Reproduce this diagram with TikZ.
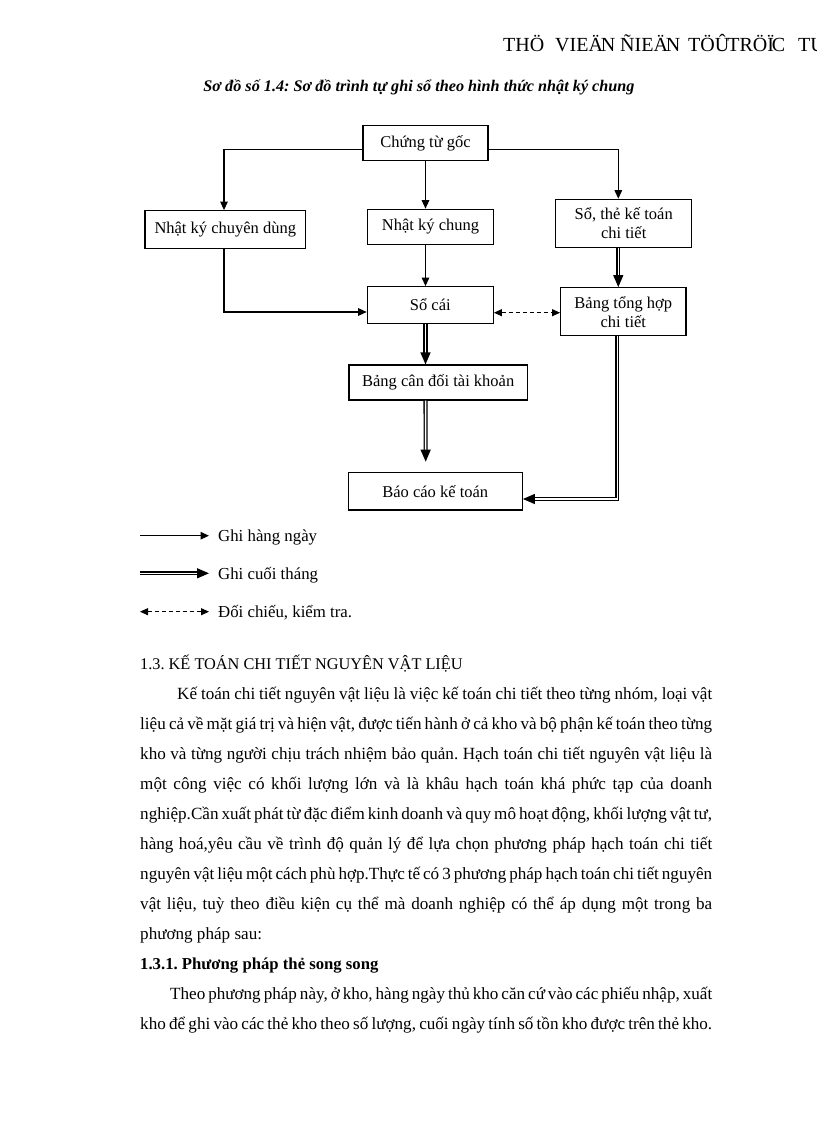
\documentclass[tikz,border=0pt]{standalone}
\usepackage{fontspec}
\setmainfont{Liberation Serif}
\usetikzlibrary{arrows.meta}
\frenchspacing
\newcommand\jline[1]{\hbox to 572pt{#1}}
\newcommand\ovl[1]{#1\kern-0.1em}
\begin{document}
\begin{tikzpicture}[x=1pt,y=-1pt,
  box/.style={draw, line width=1.2pt, inner sep=0pt, font=\fontsize{16.5}{19}\selectfont, align=center},
  daily/.style={line width=1.2pt, -{Triangle[length=8.5pt,width=7.5pt]}},
  monthly/.style={line width=1.3pt, double, double distance=1.5pt, -{Triangle[length=12pt,width=10pt]}},
  check/.style={line width=1pt, dash pattern=on 4pt off 3pt, {Triangle[length=8pt,width=7pt]}-{Triangle[length=8pt,width=7pt]}},
  body/.style={font=\fontsize{17.1}{21}\selectfont, anchor=base west, inner sep=0pt},
  legtext/.style={font=\fontsize{16.8}{21}\selectfont, anchor=base west, inner sep=0pt},
]
\fill[white] (0,0) rectangle (816,1123);
\useasboundingbox (0,0) rectangle (816,1123);

% header
\node[anchor=base west, inner sep=0pt, font=\fontsize{20}{24}\selectfont] (hdr) at (503,51.5)
  {\makebox[52pt][l]{THÖ}\makebox[65pt][l]{VIE\ovl{Ä}N}\makebox[68pt][l]{ÑIE\ovl{Ä}N}\makebox[110pt][l]{TÖ\ovl{Û}TRÖ\ovl{Ï}C}TUYE\ovl{Á}N};

% title
\node[anchor=base, inner sep=0pt, font=\bfseries\itshape\fontsize{16.2}{19}\selectfont] (title) at (419,92)
  {Sơ đồ số 1.4: Sơ đồ trình tự ghi sổ theo hình thức nhật ký chung};

% boxes
\node[box, minimum width=125pt, minimum height=35pt] (ctg) at (425.5,143.2) {Chứng từ gốc};
\node[box, minimum width=160.7pt, minimum height=37.6pt] (nkcd) at (225.3,229.5) {Nhật ký chuyên dùng};
\node[box, minimum width=125.6pt, minimum height=35pt] (nkc) at (430.5,226.8) {Nhật ký chung};
\node[box, minimum width=136pt, minimum height=48pt] (sct) at (623.7,223.3) {Sổ, thẻ kế toán\\chi tiết};
\node[box, minimum width=126pt, minimum height=36.6pt] (sc) at (430.3,305) {Sổ cái};
\node[box, minimum width=125.3pt, minimum height=48pt] (bth) at (623.3,311.7) {Bảng tổng hợp\\chi tiết};
\node[box, minimum width=178.3pt, minimum height=35pt] (bcd) at (438.2,382.5) {Bảng cân đối tài khoản};
\node[box, minimum width=174pt, minimum height=37.3pt] (bckt) at (435.3,491.3) {Báo cáo kế toán};

% connectors
\draw[daily] ([yshift=-6pt]ctg.west) -| ([xshift=-1.3pt]nkcd.north);
\draw[daily] ([yshift=-6pt]ctg.east) -| ([xshift=-5.4pt]sct.north);
\draw[daily] (ctg.south) -- (ctg.south |- nkc.north);
\draw[daily] ([xshift=-1.3pt]nkcd.south) |- ([yshift=-7pt]sc.west);
\draw[daily] (ctg.south |- nkc.south) -- (ctg.south |- sc.north);
\draw[monthly] ([xshift=-5.4pt]sct.south) -- ([xshift=-5.4pt]sct.south |- bth.north);
\draw[check] ([yshift=-7.7pt]sc.east) -- ([yshift=-1pt]bth.west);
\draw[monthly] (ctg.south |- sc.south) -- (ctg.south |- bcd.north);
\coordinate (bcdend) at (425.7,461.7);
\draw[monthly] (ctg.south |- bcd.south) -- (bcdend);
\draw[monthly] ([xshift=-6pt]bth.south) |- ([yshift=-7.7pt]bckt.east);

% legend
\coordinate (l1a) at (140,535.7); \coordinate (l1b) at (209,535.7);
\coordinate (l2a) at (140,573.3); \coordinate (l2b) at (209,573.3);
\coordinate (l3a) at (140,611.7); \coordinate (l3b) at (209,611.7);
\draw[daily] (l1a) -- (l1b);
\draw[monthly] (l2a) -- (l2b);
\draw[check] (l3a) -- (l3b);
\node[legtext] (g1) at (218,541) {Ghi hàng ngày};
\node[legtext] (g2) at (218,579) {Ghi cuối tháng};
\node[legtext] (g3) at (218,617) {Đối chiếu, kiểm tra.};

% body text
\node[body, font=\fontsize{16.3}{20}\selectfont] (t0) at (140,669) {1.3. KẾ TOÁN CHI TIẾT NGUYÊN VẬT LIỆU};
\node[body] (t1) at (140,699) {\jline{\hskip37pt Kế toán chi tiết nguyên vật liệu là việc kế toán chi tiết theo từng nhóm, loại vật}};
\node[body] (t2) at (140,729) {\jline{liệu cả về mặt giá trị và hiện vật, được tiến hành ở cả kho và bộ phận kế toán theo từng}};
\node[body] (t3) at (140,759) {\jline{kho và từng người chịu trách nhiệm bảo quản. Hạch toán chi tiết nguyên vật liệu là}};
\node[body] (t4) at (140,789) {\jline{một công việc có khối lượng lớn và là khâu hạch toán khá phức tạp của doanh}};
\node[body] (t5) at (140,819) {\jline{nghiệp.Cần xuất phát từ đặc điểm kinh doanh và quy mô hoạt động, khối lượng vật tư,}};
\node[body] (t6) at (140,849) {\jline{hàng hoá,yêu cầu về trình độ quản lý để lựa chọn phương pháp hạch toán chi tiết}};
\node[body] (t7) at (140,879) {\jline{nguyên vật liệu một cách phù hợp.Thực tế có 3 phương pháp hạch toán chi tiết nguyên}};
\node[body] (t8) at (140,909) {\jline{vật liệu, tuỳ theo điều kiện cụ thể mà doanh nghiệp có thể áp dụng một trong ba}};
\node[body] (t9) at (140,939) {phương pháp sau:};
\node[body, font=\bfseries\fontsize{16.7}{21}\selectfont] (t10) at (140,969) {1.3.1. Phương pháp thẻ song song};
\node[body] (t11) at (140,999) {\jline{\hskip30pt Theo phương pháp này, ở kho, hàng ngày thủ kho căn cứ vào các phiếu nhập, xuất}};
\node[body] (t12) at (140,1029) {\jline{kho để ghi vào các thẻ kho theo số lượng, cuối ngày tính số tồn kho được trên thẻ kho.}};
\end{tikzpicture}
\end{document}
